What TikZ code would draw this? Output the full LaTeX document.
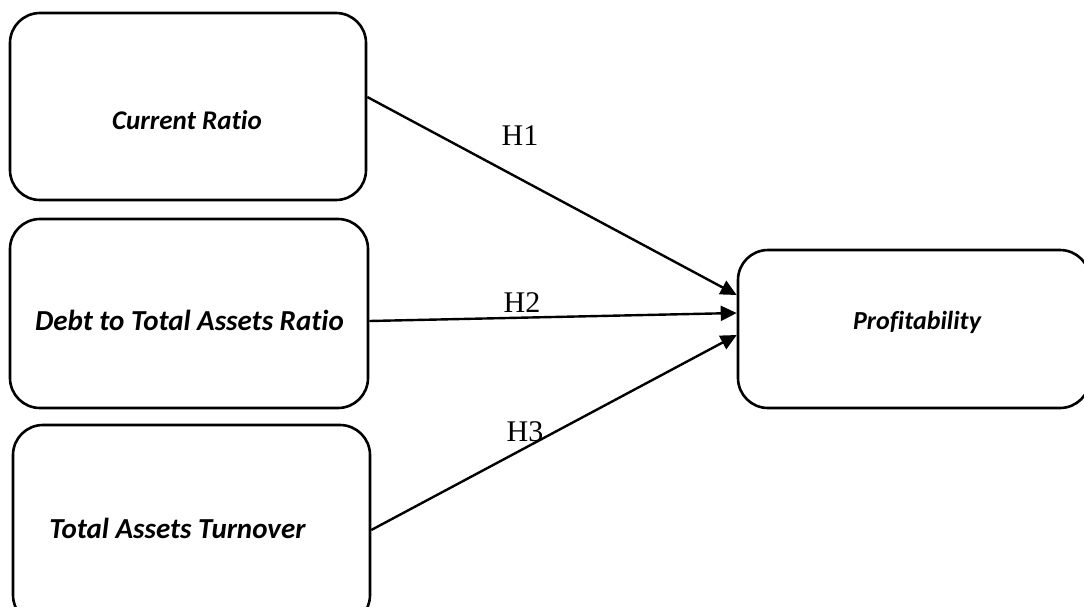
\documentclass[tikz,border=0pt]{standalone}
\usepackage{fontspec}
\setmainfont{Liberation Serif}
\newfontfamily\calfont[Ligatures=NoCommon]{Carlito}
\usetikzlibrary{arrows.meta}
\tikzset{
  varbox/.style={draw=black, line width=2.6pt, rounded corners=30pt, inner sep=0pt},
  vartext/.style={font=\calfont\bfseries\itshape\fontsize{27}{31}\selectfont, inner sep=0pt},
  bigvartext/.style={font=\calfont\bfseries\itshape\fontsize{29}{33}\selectfont, inner sep=0pt},
  hyparrow/.style={draw=black, line width=2.4pt, -{Triangle[length=16pt,width=15pt]}},
  hyplabel/.style={font=\fontsize{30}{34}\selectfont, inner sep=0pt}
}
\begin{document}
\begin{tikzpicture}[x=1pt,y=-1pt]
\useasboundingbox (0,0) rectangle (1084,606);
\node[varbox, minimum width=356pt, minimum height=187pt] (cr) at (188,106.5) {};
\node[vartext] (crt) at (187,120) {Current Ratio};
\node[varbox, minimum width=358pt, minimum height=189pt] (dta) at (189,313.5) {};
\node[bigvartext] (dtat) at (189.5,320) {Debt to Total Assets Ratio};
\node[varbox, minimum width=357pt, minimum height=200pt] (tat) at (191.5,525) {};
\node[bigvartext] (tatt) at (177.5,528) {Total Assets Turnover};
\node[varbox, minimum width=352pt, minimum height=158pt] (prof) at (914,329) {};
\node[font=\calfont\bfseries\itshape\fontsize{26}{30}\selectfont, inner sep=0pt] (proft) at (917,322) {Profitability};
\draw[hyparrow] ([yshift=9.5pt]cr.east) -- ([yshift=34pt]prof.west);
\draw[hyparrow] ([yshift=-7.5pt]dta.east) -- ([yshift=16pt]prof.west);
\draw[hyparrow] ([yshift=-5pt]tat.east) -- ([yshift=-6pt]prof.west);
\node[hyplabel] (h1) at (520,136) {H1};
\node[hyplabel] (h2) at (522,303) {H2};
\node[hyplabel] (h3) at (525,432) {H3};
\end{tikzpicture}
\end{document}
